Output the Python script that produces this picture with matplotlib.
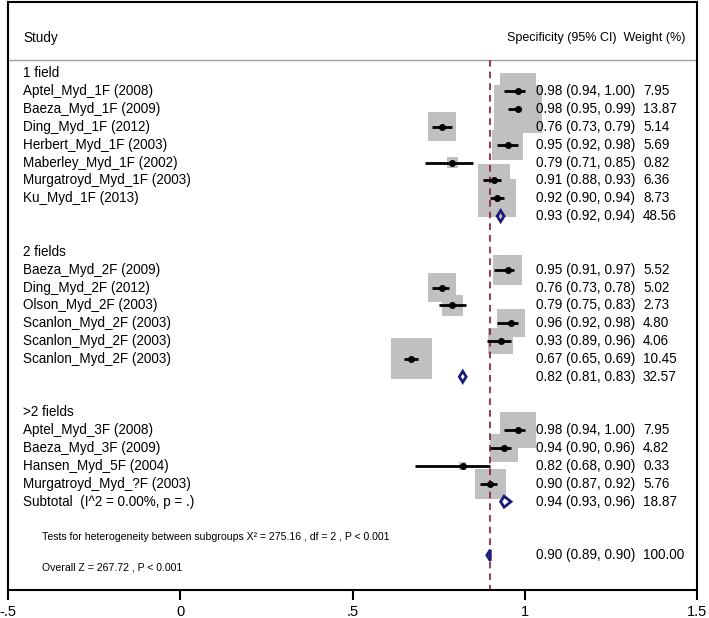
# forest plot - specificity by number of fields
import matplotlib
matplotlib.use('Agg')
import numpy as np
import matplotlib.pyplot as plt
from matplotlib.patches import Rectangle, Polygon

plt.rcParams['font.family'] = ['Liberation Sans', 'DejaVu Sans']

# data
groups = ['1 field', '2 fields', '>2 fields']

studies_1 = ['Aptel_Myd_1F (2008)', 'Baeza_Myd_1F (2009)', 'Ding_Myd_1F (2012)',
             'Herbert_Myd_1F (2003)', 'Maberley_Myd_1F (2002)',
             'Murgatroyd_Myd_1F (2003)', 'Ku_Myd_1F (2013)']
est_1 = [0.98, 0.98, 0.76, 0.95, 0.79, 0.91, 0.92]
lo_1 = [0.94, 0.95, 0.73, 0.92, 0.71, 0.88, 0.90]
hi_1 = [1.00, 0.99, 0.79, 0.98, 0.85, 0.93, 0.94]
w_1 = [7.95, 13.87, 5.14, 5.69, 0.82, 6.36, 8.73]

studies_2 = ['Baeza_Myd_2F (2009)', 'Ding_Myd_2F (2012)', 'Olson_Myd_2F (2003)',
             'Scanlon_Myd_2F (2003)', 'Scanlon_Myd_2F (2003)', 'Scanlon_Myd_2F (2003)']
est_2 = [0.95, 0.76, 0.79, 0.96, 0.93, 0.67]
lo_2 = [0.91, 0.73, 0.75, 0.92, 0.89, 0.65]
hi_2 = [0.97, 0.78, 0.83, 0.98, 0.96, 0.69]
w_2 = [5.52, 5.02, 2.73, 4.80, 4.06, 10.45]

studies_3 = ['Aptel_Myd_3F (2008)', 'Baeza_Myd_3F (2009)', 'Hansen_Myd_5F (2004)',
             'Murgatroyd_Myd_?F (2003)']
est_3 = [0.98, 0.94, 0.82, 0.90]
lo_3 = [0.94, 0.90, 0.68, 0.87]
hi_3 = [1.00, 0.96, 0.90, 0.92]
w_3 = [7.95, 4.82, 0.33, 5.76]

# subtotals: est, lo, hi, weight
sub_est = [0.93, 0.82, 0.94]
sub_lo = [0.92, 0.81, 0.93]
sub_hi = [0.94, 0.83, 0.96]
sub_w = [48.56, 32.57, 18.87]
sub_labels = ['', '', 'Subtotal  (I^2 = 0.00%, p = .)']

overall = [0.90, 0.89, 0.90, 100.00]
pooled = 0.90

het_text = 'Tests for heterogeneity between subgroups X\u00b2 = 275.16 , df = 2 , P < 0.001'
overall_text = 'Overall Z = 267.72 , P < 0.001'

xticks = [-0.5, 0, 0.5, 1, 1.5]
xticklabels = ['-.5', '0', '.5', '1', '1.5']

all_studies = [(studies_1, est_1, lo_1, hi_1, w_1),
               (studies_2, est_2, lo_2, hi_2, w_2),
               (studies_3, est_3, lo_3, hi_3, w_3)]

# layout (pixels, y measured from top)
W, H = 709, 618
x_left, x_right = 8, 697
y_top, y_axis = 2, 590
ppu = (x_right - x_left) / 2.0      # pixels per x unit
row0, drow = 73.3, 17.85
box_k = 12.7                          # px per sqrt(weight)
dia_h = 11


def px(p):
    return -0.5 + (p - x_left) / ppu


fig = plt.figure(figsize=(W / 100, H / 100), dpi=100)
ax = fig.add_axes([x_left / W, 1 - y_axis / H, (x_right - x_left) / W, (y_axis - y_top) / H])
ax.set_xlim(-0.5, 1.5)
ax.set_ylim(y_axis, y_top)

fs = 9.75
navy = '#1b1b7a'


def put_values(y, e, l, h, w):
    ax.text(px(536), y, '%.2f (%.2f, %.2f)' % (e, l, h), fontsize=fs, va='center', zorder=5)
    ax.text(px(643), y, '%.2f' % w, fontsize=fs, va='center', zorder=5)


def diamond(y, e, l, h):
    ax.add_patch(Polygon([(l, y), (e, y - dia_h / 2), (h, y), (e, y + dia_h / 2)],
                         closed=True, fill=False, edgecolor=navy, lw=2, zorder=4))


k = 0
for gi, g in enumerate(groups):
    ax.text(px(23), row0 + k * drow, g, fontsize=fs, va='center')
    k += 1
    names, est, lo, hi, w = all_studies[gi]
    for i in range(len(names)):
        y = row0 + k * drow
        ax.text(px(23), y, names[i], fontsize=fs, va='center')
        side = box_k * np.sqrt(w[i])
        ax.add_patch(Rectangle((est[i] - side / ppu / 2, y - side / 2), side / ppu, side,
                               facecolor='#c0c0c0', edgecolor='none', zorder=1))
        ax.plot([lo[i], hi[i]], [y, y], color='k', lw=2, zorder=3, solid_capstyle='butt')
        ax.plot(est[i], y, 'o', color='k', ms=4, zorder=3)
        put_values(y, est[i], lo[i], hi[i], w[i])
        k += 1
    y = row0 + k * drow
    if sub_labels[gi]:
        ax.text(px(23), y, sub_labels[gi], fontsize=fs, va='center')
    diamond(y, sub_est[gi], sub_lo[gi], sub_hi[gi])
    put_values(y, sub_est[gi], sub_lo[gi], sub_hi[gi], sub_w[gi])
    k += 2

# heterogeneity + overall
ax.text(px(42), row0 + k * drow, het_text, fontsize=7.6, va='center')
k += 1
y = row0 + k * drow
diamond(y, overall[0], overall[1], overall[2])
put_values(y, *overall)
ax.text(px(42), y + 12, overall_text, fontsize=7.6, va='center')

# header
ax.text(px(23), 38, 'Study', fontsize=fs, va='center')
ax.text(px(685), 38, 'Specificity (95% CI)  Weight (%)', fontsize=9.0, va='center', ha='right')
ax.axhline(60, color='#a0a0a0', lw=1)

# pooled estimate reference line
ax.plot([pooled, pooled], [60, y_axis], color='#8b1a2a', lw=1.2, ls=(0, (4, 3)), zorder=2)

for s in ['left', 'right', 'top', 'bottom']:
    ax.spines[s].set_linewidth(1.5)
    ax.spines[s].set_color('k')
ax.set_yticks([])
ax.set_xticks(xticks)
ax.set_xticklabels(xticklabels, fontsize=10.5)
ax.tick_params(axis='x', length=7, width=1.5, pad=4)

fig.savefig('out.png', dpi=100)
